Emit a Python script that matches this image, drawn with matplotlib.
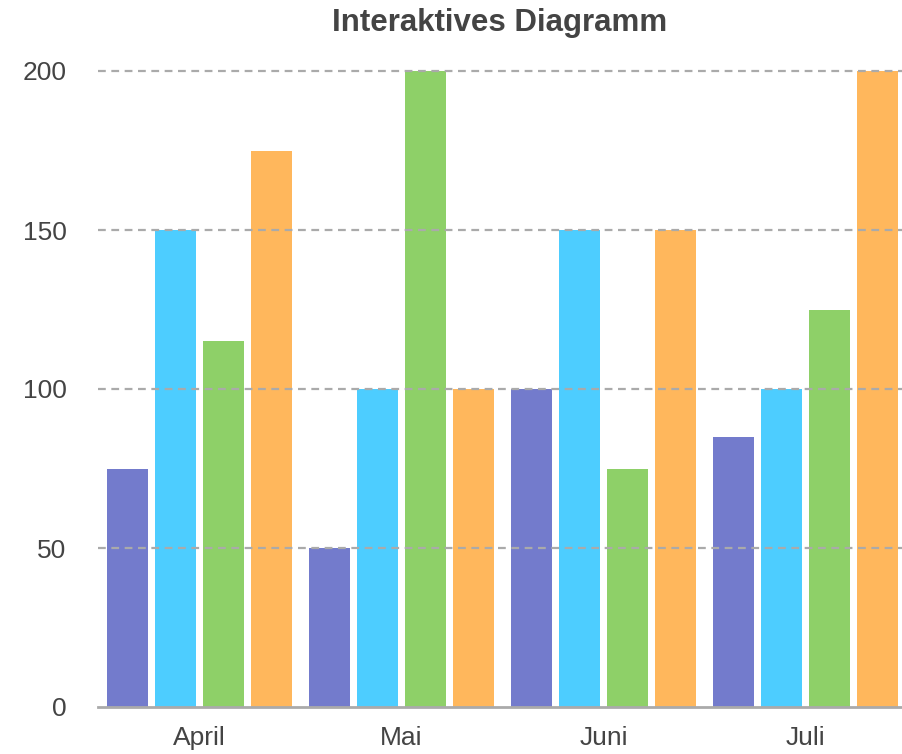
import matplotlib
matplotlib.use("Agg")
import matplotlib.pyplot as plt
import numpy as np

categories = ["April", "Mai", "Juni", "Juli"]
series_a = [75, 50, 100, 85]
series_b = [150, 100, 150, 100]
series_c = [115, 200, 75, 125]
series_d = [175, 100, 150, 200]
yticks = [0, 50, 100, 150, 200]
colors = ["#737bcc", "#4dcdff", "#8ed068", "#ffb75c"]

plt.rcParams['font.family'] = ['Liberation Sans', 'DejaVu Sans']

fig = plt.figure(figsize=(9.03, 7.54), dpi=100)
ax = fig.add_axes([98.5/903, 1-707/754, 808/903, (707-71)/754])

x = np.arange(len(categories))
step = 0.2376
width = 0.203
for i, (vals, c) in enumerate(zip([series_a, series_b, series_c, series_d], colors)):
    ax.bar(x + (i - 1.5) * step, vals, width=width, color=c, zorder=2)

ax.set_xlim(-0.5, 3.5)
ax.set_ylim(0, 200)
ax.set_yticks(yticks)
ax.set_xticks(x)
ax.set_xticklabels(categories)
for yv in yticks[1:]:
    ax.axhline(yv, color="#aaaaaa", lw=1.6, ls=(0, (3.5, 2.5)), zorder=3, clip_on=False)

for s in ["top", "right", "left"]:
    ax.spines[s].set_visible(False)
ax.spines["bottom"].set_color("#aaaaaa")
ax.spines["bottom"].set_linewidth(2)
ax.spines["bottom"].set_zorder(4)
ax.tick_params(axis="both", length=0, labelsize=19, colors="#444444")
ax.tick_params(axis="y", pad=23)
ax.tick_params(axis="x", pad=14)

fig.text(500/903, 1-23/754, "Interaktives Diagramm", ha="center", va="center",
         fontsize=22.5, fontweight="bold", color="#444444")

fig.savefig("out.png", dpi=100)
